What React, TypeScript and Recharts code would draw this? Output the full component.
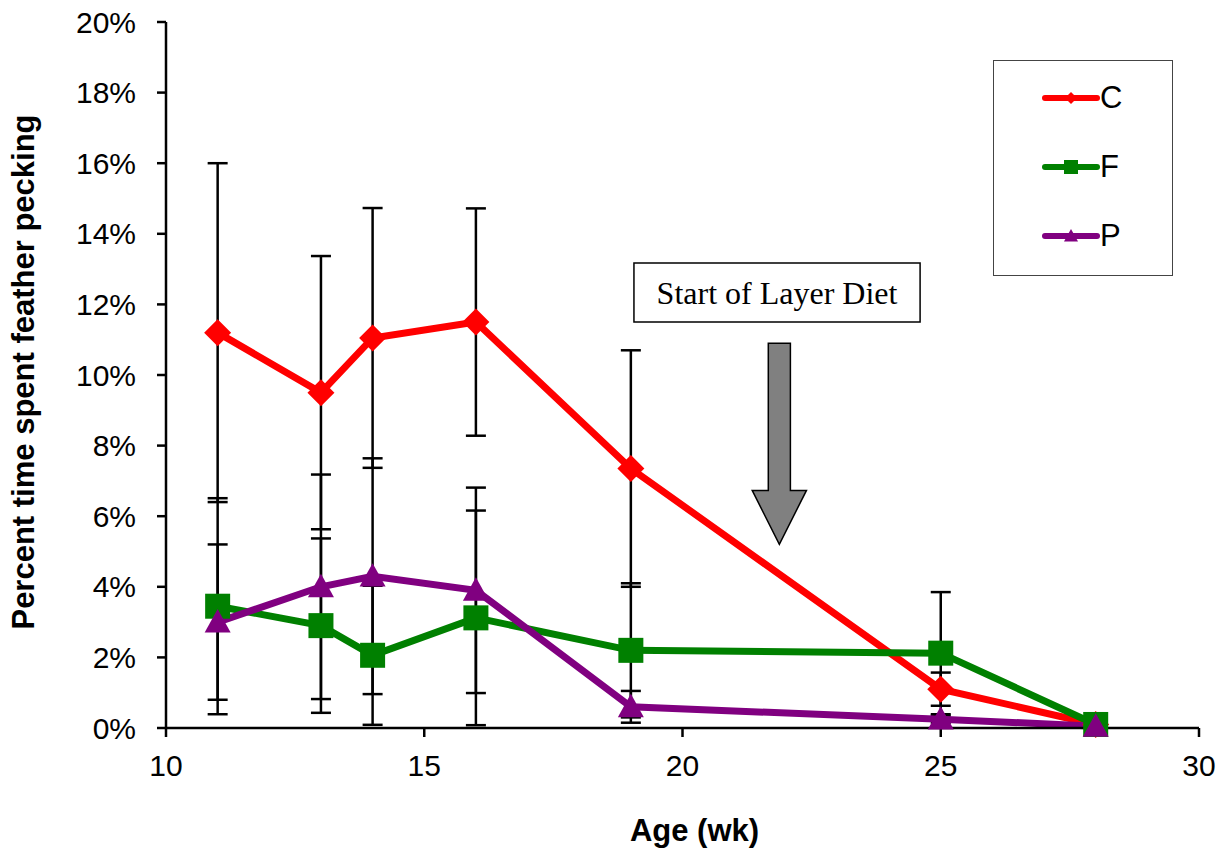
import {
  LineChart,
  Line,
  XAxis,
  YAxis,
  ErrorBar,
  Legend,
  ReferenceArea,
} from 'recharts';

const ages = [11, 13, 14, 16, 19, 25, 28];
const cValues = [11.2, 9.5, 11.05, 11.5, 7.35, 1.1, 0.1];
const cErrors = [4.8, 3.87, 3.68, 3.22, 3.35, 0.47, 0];
const fValues = [3.45, 2.9, 2.06, 3.12, 2.2, 2.12, 0.1];
const fErrors = [3.06, 2.47, 1.97, 3.04, 1.9, 1.73, 0];
const pValues = [3.0, 4.0, 4.3, 3.9, 0.6, 0.25, 0.05];
const pErrors = [2.2, 3.18, 3.34, 2.91, 0.45, 0.1, 0];

const xTicks = [10, 15, 20, 25, 30];
const yTicks = [0, 2, 4, 6, 8, 10, 12, 14, 16, 18, 20];

const data = ages.map((age, i) => ({
  age,
  C: cValues[i],
  cErr: cErrors[i],
  F: fValues[i],
  fErr: fErrors[i],
  P: pValues[i],
  pErr: pErrors[i],
}));

const SANS = '"Liberation Sans", Arial, sans-serif';
const RED = '#ff0000';
const GREEN = '#008000';
const PURPLE = '#800080';

const Diamond = ({ cx, cy, r, fill }: any) => (
  <path d={`M${cx},${cy - r}L${cx + r},${cy}L${cx},${cy + r}L${cx - r},${cy}Z`} fill={fill} />
);
const Square = ({ cx, cy, r, fill }: any) => (
  <rect x={cx - r} y={cy - r} width={r * 2} height={r * 2} fill={fill} />
);
const Triangle = ({ cx, cy, r, fill }: any) => (
  <path d={`M${cx},${cy - r}L${cx + r},${cy + r * 0.8}L${cx - r},${cy + r * 0.8}Z`} fill={fill} />
);

const YTitle = ({ viewBox }: any) => {
  const x = viewBox.x + 34;
  const y = viewBox.y + viewBox.height / 2 - 3;
  return (
    <text
      x={x}
      y={y}
      transform={`rotate(-90, ${x}, ${y})`}
      textAnchor="middle"
      fontFamily={SANS}
      fontWeight="bold"
      fontSize={31}
      fill="#000"
    >
      Percent time spent feather pecking
    </text>
  );
};

const DownArrow = ({ x, y, width, height }: any) => {
  const cx = x + width / 2;
  const sw = (width * 11) / 54;
  const hy = y + (height * 147) / 201;
  const pts = [
    [cx - sw, y],
    [cx + sw, y],
    [cx + sw, hy],
    [x + width, hy],
    [cx, y + height],
    [x, hy],
    [cx - sw, hy],
  ]
    .map((p) => p.join(','))
    .join(' ');
  return <polygon points={pts} fill="#808080" stroke="#000" strokeWidth={1.5} />;
};

const legendItems = [
  { name: 'C', color: RED, Shape: Diamond, r: 6 },
  { name: 'F', color: GREEN, Shape: Square, r: 7 },
  { name: 'P', color: PURPLE, Shape: Triangle, r: 7 },
];

const LegendBox = () => (
  <div
    style={{
      position: 'relative',
      boxSizing: 'border-box',
      width: 180,
      height: 216,
      border: '1.5px solid #444',
      background: '#fff',
    }}
  >
    {legendItems.map((item, i) => (
      <div key={item.name} style={{ position: 'absolute', left: 48, top: 21 + i * 69, height: 32, display: 'flex', alignItems: 'center' }}>
        <svg width={58} height={32}>
          <line x1={3} y1={16} x2={55} y2={16} stroke={item.color} strokeWidth={6} strokeLinecap="round" />
          <item.Shape cx={29} cy={16} r={item.r} fill={item.color} />
        </svg>
        <span style={{ fontFamily: SANS, fontSize: 31, color: '#000', lineHeight: '32px' }}>{item.name}</span>
      </div>
    ))}
  </div>
);

export default function App() {
  return (
    <div style={{ width: 1228, height: 850, background: '#fff' }}>
      <style>{'body{margin:0}'}</style>
      <LineChart width={1228} height={850} data={data} margin={{ top: 22, right: 29, left: 0, bottom: 0 }}>
        <XAxis
          dataKey="age"
          type="number"
          domain={[10, 30]}
          ticks={xTicks}
          height={122}
          stroke="#000"
          strokeWidth={2.5}
          tickSize={9}
          tickMargin={18}
          tick={{ fontSize: 30, fontFamily: SANS, fill: '#000' }}
          label={{
            value: 'Age (wk)',
            position: 'insideBottom',
            offset: 9,
            dx: 12,
            fontSize: 31,
            fontWeight: 'bold',
            fontFamily: SANS,
            fill: '#000',
          }}
        />
        <XAxis xAxisId="top" orientation="top" type="number" domain={[10, 30]} height={0} tick={false} tickLine={false} stroke="#000" strokeWidth={2.5} />
        <YAxis
          type="number"
          domain={[0, 20]}
          ticks={yTicks}
          width={166}
          stroke="#000"
          strokeWidth={2.5}
          tickSize={9}
          tickMargin={21}
          tickFormatter={(v) => `${v}%`}
          tick={{ fontSize: 30, fontFamily: SANS, fill: '#000' }}
          label={<YTitle />}
        />
        <YAxis yAxisId="right" orientation="right" type="number" domain={[0, 20]} width={0} tick={false} tickLine={false} stroke="#000" strokeWidth={2.5} />
        <ReferenceArea
          x1={19.06}
          x2={24.6}
          y1={11.5}
          y2={13.17}
          fill="#fff"
          fillOpacity={1}
          stroke="#000"
          strokeWidth={1.5}
          label={{ value: 'Start of Layer Diet', position: 'center', fontSize: 32, fontFamily: '"Liberation Serif", "Times New Roman", serif', fill: '#000' }}
        />
        <ReferenceArea x1={21.35} x2={22.4} y1={5.2} y2={10.9} shape={<DownArrow />} />
        <Line
          dataKey="C"
          stroke={RED}
          strokeWidth={7}
          isAnimationActive={false}
          dot={(p: any) => <Diamond key={`c${p.index}`} cx={p.cx} cy={p.cy} r={13.5} fill={RED} />}
          activeDot={false}
        >
          <ErrorBar dataKey="cErr" direction="y" width={10} stroke="#000" strokeWidth={2.5} isAnimationActive={false} />
        </Line>
        <Line
          dataKey="F"
          stroke={GREEN}
          strokeWidth={7}
          isAnimationActive={false}
          dot={(p: any) => <Square key={`f${p.index}`} cx={p.cx} cy={p.cy} r={12.5} fill={GREEN} />}
          activeDot={false}
        >
          <ErrorBar dataKey="fErr" direction="y" width={10} stroke="#000" strokeWidth={2.5} isAnimationActive={false} />
        </Line>
        <Line
          dataKey="P"
          stroke={PURPLE}
          strokeWidth={7}
          isAnimationActive={false}
          dot={(p: any) => <Triangle key={`p${p.index}`} cx={p.cx} cy={p.cy} r={13} fill={PURPLE} />}
          activeDot={false}
        >
          <ErrorBar dataKey="pErr" direction="y" width={10} stroke="#000" strokeWidth={2.5} isAnimationActive={false} />
        </Line>
        <Legend
          layout="vertical"
          align="center"
          verticalAlign="middle"
          wrapperStyle={{ left: 993, top: 60, width: 180, height: 216 }}
          content={() => <LegendBox />}
        />
      </LineChart>
    </div>
  );
}
